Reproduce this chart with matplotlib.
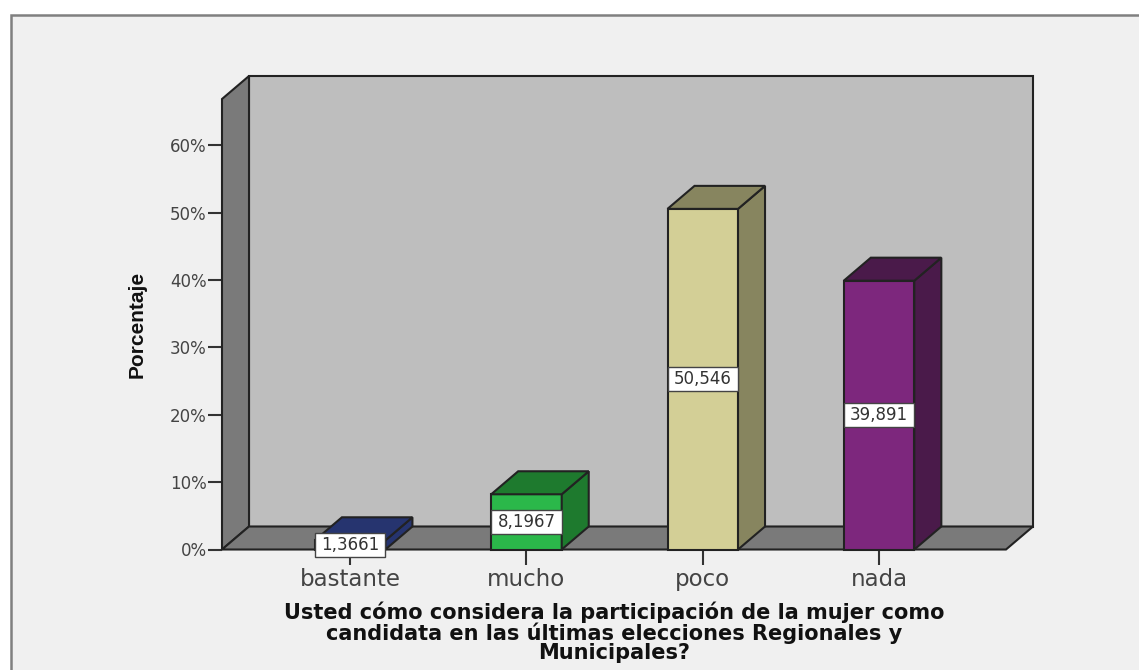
import matplotlib
matplotlib.use("Agg")
import matplotlib.pyplot as plt
from matplotlib.patches import Polygon, Rectangle

plt.rcParams["font.family"] = ["DejaVu Sans"]

categories = ["bastante", "mucho", "poco", "nada"]
values = [1.3661, 8.1967, 50.546, 39.891]
value_labels = ["1,3661", "8,1967", "50,546", "39,891"]
front_colors = ["#2b3b85", "#2bb84a", "#d3cf96", "#7d277d"]
side_colors = ["#26346f", "#1e7a2e", "#87855f", "#4a1a4a"]
y_ticks = [0, 10, 20, 30, 40, 50, 60]
y_tick_labels = ["0%", "10%", "20%", "30%", "40%", "50%", "60%"]
x_title = ("Usted cómo considera la participación de la mujer como\n"
           "candidata en las últimas elecciones Regionales y\n"
           "Municipales?")

W, H = 1139, 670
LINE = "#222222"

fig = plt.figure(figsize=(W / 100, H / 100), dpi=100, facecolor="white")
#grey panel with frame, runs off the right and bottom edges
fig.add_artist(Rectangle((11 / W, -0.01), 1.1, (H - 15) / H + 0.01, transform=fig.transFigure,
                         facecolor="#f0f0f0", edgecolor="#808080", linewidth=1.8, zorder=-1))

ax = fig.add_axes([222 / W, (H - 549.5) / H, 784 / W, 450.5 / H])
ax.set_xlim(-0.727, 3.72)
ax.set_ylim(0, 66.85)
ax.patch.set_visible(False)
for s in ax.spines.values():
    s.set_visible(False)

#depth of the fake 3d, in data units
dx = 27 / 176.3
dy = 23 / 6.74
xmin, xmax = ax.get_xlim()
ymax = ax.get_ylim()[1]


def poly(pts, color, z):
    ax.add_patch(Polygon(pts, closed=True, facecolor=color, edgecolor=LINE, linewidth=1.5,
                         joinstyle="miter", clip_on=False, zorder=z))


poly([(xmin + dx, dy), (xmax + dx, dy), (xmax + dx, ymax + dy), (xmin + dx, ymax + dy)], "#bebebe", 1)
poly([(xmin, 0), (xmin, ymax), (xmin + dx, ymax + dy), (xmin + dx, dy)], "#7a7a7a", 2)
poly([(xmin, 0), (xmax, 0), (xmax + dx, dy), (xmin + dx, dy)], "#7a7a7a", 2)

bar_w = 0.4
for i, v in enumerate(values):
    l, r = i - bar_w / 2, i + bar_w / 2
    poly([(l, 0), (r, 0), (r, v), (l, v)], front_colors[i], 3)
    poly([(r, 0), (r + dx, dy), (r + dx, v + dy), (r, v)], side_colors[i], 3)
    poly([(l, v), (r, v), (r + dx, v + dy), (l + dx, v + dy)], side_colors[i], 3)
    #value label sits at half of the bar height
    box_h = 3.5
    ax.add_patch(Rectangle((l, v / 2 - box_h / 2), bar_w, box_h, facecolor="white",
                           edgecolor="#444444", linewidth=1.0, clip_on=False, zorder=4))
    ax.text(i, v / 2, value_labels[i], ha="center", va="center", fontsize=12,
            color="#333333", zorder=5)

ax.set_xticks(range(len(categories)))
ax.set_xticklabels(categories, fontsize=16.5, color="#444444")
ax.set_yticks(y_ticks)
ax.set_yticklabels(y_tick_labels, fontsize=12, color="#444444")
ax.tick_params(axis="x", length=11, width=1.5, color="#333333", pad=2)
ax.tick_params(axis="y", length=10, width=1.5, color="#333333", pad=1)

ax.set_xlabel(x_title, fontsize=15, fontweight="bold", color="#111111", linespacing=0.95, labelpad=8)
ax.set_ylabel("Porcentaje", fontsize=15, fontweight="bold", color="#111111",
              family=["Liberation Sans"], labelpad=17)

fig.savefig("out.png", dpi=100, facecolor=fig.get_facecolor())
